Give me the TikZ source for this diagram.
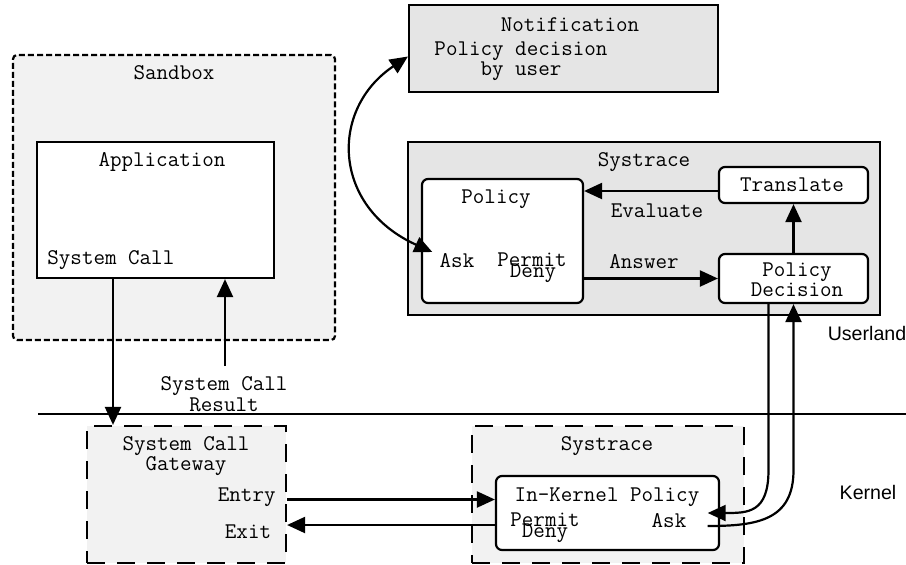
\documentclass[tikz,border=0pt]{standalone}
\usepackage{fontspec}
\usetikzlibrary{arrows.meta,calc,fit}
\newfontfamily\sansfont{Liberation Sans}

\begin{document}
\begin{tikzpicture}[
        x=0.5pt, y=-0.5pt,
        >={Triangle[length=9pt,width=8pt]},
        every node/.style = {font=\ttfamily\fontsize{11.2pt}{10.2pt}\selectfont, align=center},
        txt/.style = {inner sep=0pt},
        area/.style = {draw, line width=1.1pt, inner sep=0pt},
        sandbox/.style = {area, rounded corners=2pt, dash pattern=on 3pt off 1.5pt, fill=black!5},
        kernelbox/.style = {area, dash pattern=on 9pt off 6pt, fill=black!5},
        userbox/.style = {area, fill=black!10},
        module/.style = {area, fill=white, rounded corners=3pt},
        flow/.style = {->, line width=1.1pt},
        side/.style = {font=\sansfont\fontsize{9.8pt}{10.2pt}\selectfont}]

    \useasboundingbox (0,0) rectangle (906,564);

    % userland / kernel border
    \draw[line width=1.1pt] (38,414) coordinate (divleft) -- (906,414) coordinate (divright);
    \node[side] (userland) at (867,333) {Userland};
    \node[side] (kernel) at (868,492) {Kernel};

    % boxes
    \node[sandbox, fit={(13,55) (335,340)}] (sandbox) {};
    \node[area, fill=white, fit={(37,142) (274,278)}] (app) {};
    \node[userbox, fit={(409,5) (718,92)}] (notify) {};
    \node[userbox, fit={(408,142) (880,315)}] (usys) {};
    \node[module, fit={(422,179) (583,303)}] (policy) {};
    \node[module, fit={(719,167) (868,203)}] (translate) {};
    \node[module, fit={(719,254) (868,303)}] (decision) {};
    \node[kernelbox, fit={(87,426) (286,563)}] (gateway) {};
    \node[kernelbox, fit={(472,426) (744,563)}] (ksys) {};
    \node[module, fit={(496,476) (719,550)}] (kpol) {};

    % texts
    \node[txt] (sandboxlbl) at (174,73) {Sandbox};
    \node[txt] (applbl) at (162,162) {Application};
    \node[txt, anchor=west] (appcall) at (47,260) {System Call};
    \node[txt] (sysres) at (224,394) {System Call\\Result};
    \node[txt] (notifylbl) at (570,25) {Notification};
    \node[txt] (notetext) at (521,61) {Policy decision\\by user};
    \node[txt] (usyslbl) at (644,162) {Systrace};
    \node[txt] (policylbl) at (496,199) {Policy};
    \node[txt] (pask) at (457,261) {Ask};
    \node[txt] (ppermit) at (532,260) {Permit};
    \node[txt] (pdeny) at (533,273) {Deny};
    \node[txt] (translatelbl) at (792,185) {Translate};
    \node[txt] (decisionlbl) at (797,280) {Policy\\Decision};
    \node[txt] (evaluate) at (657,211) {Evaluate};
    \node[txt] (answer) at (644,262) {Answer};
    \node[txt] (gatewaylbl) at (186,456) {System Call\\Gateway};
    \node[txt, anchor=east] (entry) at (276,497) {Entry};
    \node[txt] (exit) at (248,532) {Exit};
    \node[txt] (ksyslbl) at (607,446) {Systrace};
    \node[txt] (kpollbl) at (607,497) {In-Kernel Policy};
    \node[txt] (kpermit) at (545,520) {Permit};
    \node[txt] (kdeny) at (545,533) {Deny};
    \node[txt] (kask) at (669,521) {Ask};

    % connectors
    \coordinate (callx) at (113,0);
    \draw[flow] (app.south -| callx) -- (gateway.north -| callx);
    \draw[flow] (225,366) coordinate (resfoot) -- (resfoot |- app.south);
    \draw[flow] ($(gateway.east)+(0,5)$) coordinate (entryfoot) -- (entryfoot -| kpol.west);
    \draw[flow] ($(kpol.west)+(0,12)$) coordinate (exitfoot) -- (exitfoot -| gateway.east);
    \draw[flow] ($(translate.west)+(0,6)$) coordinate (evalfoot) -- (evalfoot -| policy.east);
    \draw[flow] (policy.east |- decision) -- (decision.west);
    \draw[flow] (decision.north) -- (translate.south);
    \draw[<->, line width=1.1pt] ($(pask.west)+(-7,-9)$)
        .. controls +(-100,-45) and +(-79,53) .. ($(notify.west)+(0,8)$);
    \draw[flow] ($(decision.south)+(-25,0)$) -- ++(0,166)
        .. controls +(0,43) and +(40,0) .. ($(kask.east)+(21,-8)$);
    \draw[flow] ($(kask.east)+(21,5)$)
        .. controls +(50,0) and +(0,50) .. ($(decision.south)+(0,166)$) -- (decision.south);
\end{tikzpicture}
\end{document}
